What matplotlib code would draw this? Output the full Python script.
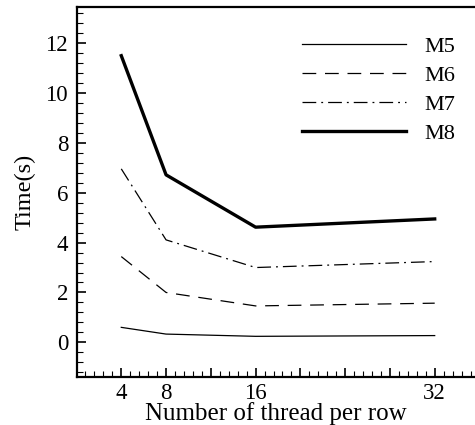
import matplotlib
matplotlib.use("Agg")
import matplotlib.pyplot as plt
from matplotlib.ticker import MultipleLocator, FuncFormatter

threads = [4, 8, 16, 32]
m5 = [0.60, 0.33, 0.24, 0.27]
m6 = [3.44, 2.00, 1.46, 1.57]
m7 = [6.96, 4.11, 3.00, 3.24]
m8 = [11.50, 6.72, 4.62, 4.95]
labeled_ticks = [4, 8, 16, 32]

plt.rcParams['font.family'] = ['Liberation Serif', 'DejaVu Serif']

fig = plt.figure(figsize=(4.75, 4.25), dpi=100)
ax = fig.add_axes([76.5/475, 1 - 377.2/425, 398.5/475, (377.2 - 7.1)/425])

ax.plot(threads, m5, color='black', lw=0.9, label='M5')
ax.plot(threads, m6, color='black', lw=0.9, dashes=(11, 7), label='M6')
ax.plot(threads, m7, color='black', lw=0.9, dashes=(11, 4, 1.5, 4), label='M7')
ax.plot(threads, m8, color='black', lw=2.4, label='M8')

ax.set_xlim(0, 35.6)
ax.set_ylim(-1.4, 13.45)

ax.xaxis.set_major_locator(MultipleLocator(4))
ax.xaxis.set_minor_locator(MultipleLocator(0.8))
ax.xaxis.set_major_formatter(FuncFormatter(lambda v, p: f"{int(round(v))}" if int(round(v)) in labeled_ticks else ""))
ax.yaxis.set_major_locator(MultipleLocator(2))
ax.yaxis.set_minor_locator(MultipleLocator(0.4))

ax.tick_params(which='major', direction='in', length=6.5, width=1.2, labelsize=16.5)
ax.tick_params(axis='x', which='major', pad=4)
ax.tick_params(axis='y', which='major', pad=6)
ax.tick_params(which='minor', direction='in', length=4, width=0.8)
ax.tick_params(top=False, right=False)

for s in ['left', 'bottom', 'top']:
    ax.spines[s].set_linewidth(1.6)
ax.spines['right'].set_visible(False)

ax.set_xlabel('Number of thread per row', fontsize=18, labelpad=-1)
ax.set_ylabel('Time(s)', fontsize=17.5, labelpad=7)

leg = ax.legend(loc='upper left', bbox_to_anchor=(225/398.5, 1 - 29/370), frameon=False,
                fontsize=16, handlelength=4.7, handletextpad=0.85, labelspacing=0.38,
                borderaxespad=0, borderpad=0)

fig.savefig('out.png', dpi=100)
